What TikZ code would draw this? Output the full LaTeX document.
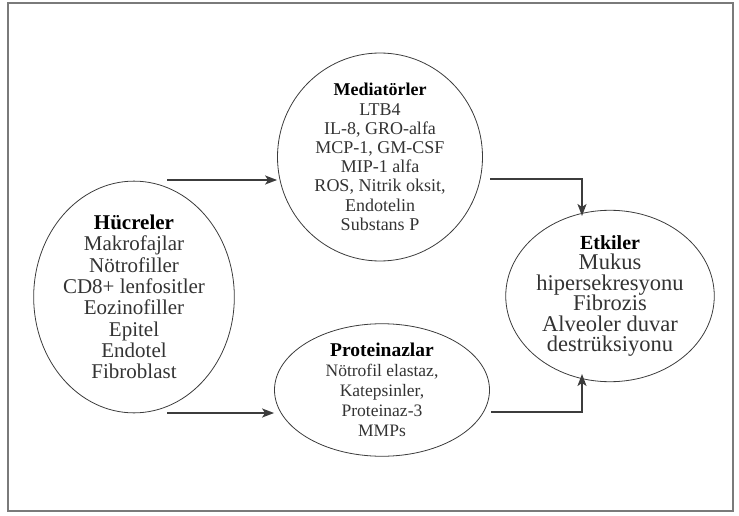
\documentclass[tikz,border=0pt]{standalone}
\usepackage{fontspec}
\setmainfont{Liberation Serif}
\usepackage{xcolor}
\definecolor{cLine}{HTML}{3C3C3C}
\definecolor{cText}{HTML}{333333}
\definecolor{cFrame}{HTML}{7A7A7A}
\usepackage{tikz}
\usetikzlibrary{positioning,arrows.meta,shapes.geometric,calc}
\tikzset{
  node-oval/.style={draw=cLine,line width=0.8pt,ellipse,inner sep=0pt,align=center,
    text=cText,font=\fontsize{21}{21.3}\selectfont},
  arrow/.style={-{Stealth[length=12pt,width=9pt,inset=3pt]},line width=1.8pt,
    draw=cLine},
  frame/.style={draw=cFrame,line width=1.5pt},
}
\newcommand{\ttl}[1]{{\bfseries\color{black}#1}}

\begin{document}
\begin{tikzpicture}[x=1pt,y=-1pt]
  \useasboundingbox (0,0) rectangle (739,516);
  \draw[frame] (8,3) rectangle (733,511);
  % ovals
  \node[node-oval,minimum width=158pt,minimum height=220pt] (hucre) at (134,297)
    {\ttl{Hücreler}\\Makrofajlar\\Nötrofiller\\CD8+ lenfositler\\Eozinofiller\\%
     Epitel\\Endotel\\Fibroblast};
  \node[node-oval,minimum width=205pt,minimum height=190pt,
    font=\fontsize{18}{19.2}\selectfont] (medi) at (380,157)
    {\ttl{Mediatörler}\\LTB4\\IL-8, GRO-alfa\\MCP-1, GM-CSF\\MIP-1 alfa\\%
     ROS, Nitrik oksit,\\Endotelin\\Substans P};
  \node[node-oval,minimum width=215pt,minimum height=124pt,
    font=\fontsize{17.5}{20}\selectfont] (prot) at (382,390)
    {{\fontsize{19.5}{20}\selectfont\ttl{Proteinazlar}}\\Nötrofil elastaz,\\%
     Katepsinler,\\Proteinaz-3\\MMPs};
  \node[node-oval,minimum width=174pt,minimum height=153pt,
    font=\fontsize{22.5}{20.5}\selectfont] (etki) at (610,296)
    {{\fontsize{20}{20.5}\selectfont\ttl{Etkiler}}\\Mukus\\hipersekresyonu\\%
     Fibrozis\\Alveoler duvar\\destrüksiyonu};
  % free ends
  \coordinate (h-top) at (167,180);
  \coordinate (h-bot) at (167,413);
  \coordinate (m-out) at (490,179);
  \coordinate (p-out) at (491,412);
  \coordinate (e-top) at (582,216);
  \coordinate (e-bot) at (582,374);
  \draw[arrow] (h-top) -- (h-top -| medi.west);
  \draw[arrow] (h-bot) -- (h-bot -| prot.west);
  \draw[arrow] (m-out) -| (e-top);
  \draw[arrow] (p-out) -| (e-bot);
\end{tikzpicture}
\end{document}
